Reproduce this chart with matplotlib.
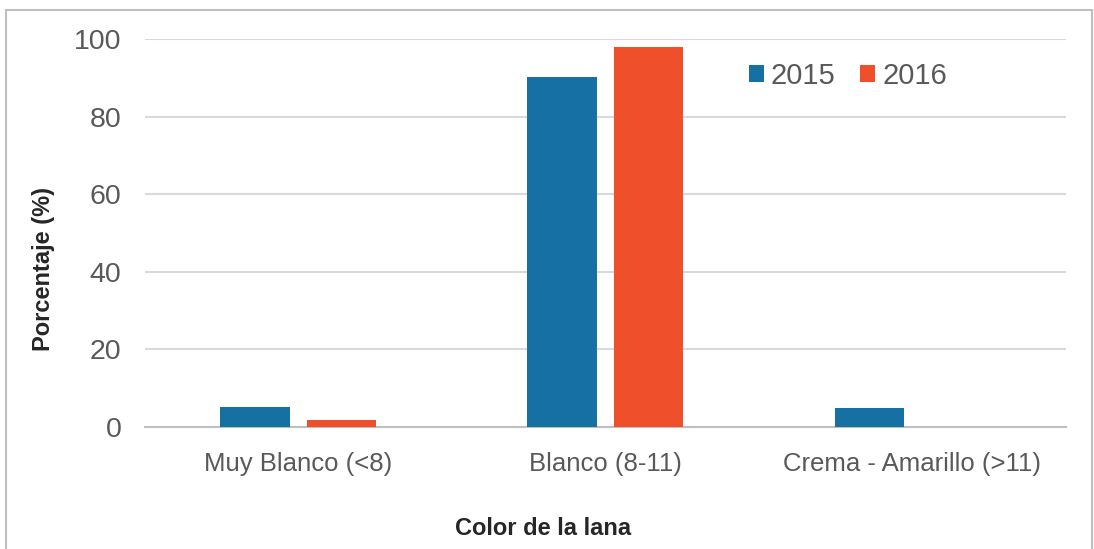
import matplotlib.pyplot as plt
import matplotlib.patches as mpatches
import numpy as np

# ── data ─────────────────────────────────────
categories = ["Muy Blanco (<8)", "Blanco (8-11)", "Crema - Amarillo (>11)"]
years = ["2015", "2016"]
values_2015 = [5.2, 90.2, 4.9]
values_2016 = [1.8, 97.9, 0.0]

BLUE = "#1670A4"
ORANGE = "#EF4F2B"
TEXT = "#595959"
LABEL = "#262626"

plt.rcParams["font.family"] = ["Liberation Sans", "DejaVu Sans"]

fig = plt.figure(figsize=(10.94, 5.49), dpi=100)
ax = fig.add_axes([0.1325, 0.2222, 0.9744 - 0.1325, 0.929 - 0.2222])

x = np.arange(len(categories))
width = 0.225
offset = 0.1415
ax.bar(x - offset, values_2015, width, color=BLUE, label=years[0], zorder=3)
ax.bar(x + offset, values_2016, width, color=ORANGE, label=years[1], zorder=3)

# ── axes formatting ─────────────────────────
ax.set_xlim(-0.5, len(categories) - 0.5)
ax.set_ylim(0, 100)
ax.set_yticks(np.arange(0, 101, 20))
ax.yaxis.grid(True, color="#D9D9D9", lw=1.5, zorder=0)
ax.set_axisbelow(True)
for side in ["top", "right", "left"]:
    ax.spines[side].set_visible(False)
ax.spines["bottom"].set_color("#BFBFBF")
ax.spines["bottom"].set_linewidth(1.5)
ax.tick_params(axis="y", length=0, pad=17, labelsize=20.5, labelcolor=TEXT)
ax.tick_params(axis="x", length=0, pad=18, labelsize=18.5, labelcolor=TEXT)
ax.set_xticks(x)
ax.set_xticklabels(categories)

ax.set_ylabel("Porcentaje (%)", fontsize=17, fontweight="bold", color=LABEL)
ax.yaxis.set_label_coords(-0.098, 0.407)
ax.set_xlabel("Color de la lana", fontsize=17, fontweight="bold", color=LABEL)
ax.xaxis.set_label_coords(0.432, -0.232)

ax.legend(loc="upper left", bbox_to_anchor=(0.6274, 1.008), ncol=2, frameon=False,
          fontsize=21, handlelength=0.5, handleheight=0.5, handletextpad=0.25,
          columnspacing=0.85, labelcolor=TEXT)

# ── outer chart border ──────────────────────
border = mpatches.Rectangle((6 / 1094, -0.05), (1092 - 6) / 1094, 1 - 10 / 549 + 0.05,
                            transform=fig.transFigure, fill=False,
                            edgecolor="#BFBFBF", lw=1.5)
fig.add_artist(border)

fig.savefig("out.png", dpi=100)
